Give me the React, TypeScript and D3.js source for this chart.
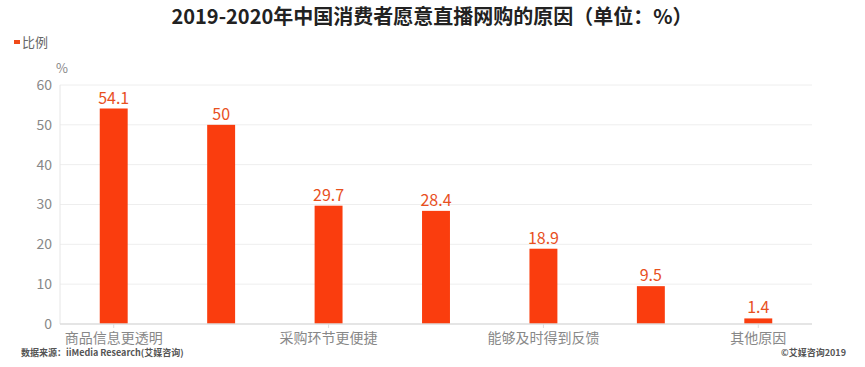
import React, { useRef, useEffect } from 'react';
import * as d3 from 'd3';

const categories = [
  '商品信息更透明',
  '价格更优惠',
  '采购环节更便捷',
  '主播推荐更可信',
  '能够及时得到反馈',
  '互动性更强',
  '其他原因',
];
const values = [54.1, 50, 29.7, 28.4, 18.9, 9.5, 1.4];
const yTicks = [0, 10, 20, 30, 40, 50, 60];

const FONT = '"Noto Sans CJK SC", "Noto Sans", sans-serif';

const App: React.FC = () => {
  const svgRef = useRef<SVGSVGElement | null>(null);
  const width = 865;
  const height = 367;

  useEffect(() => {
    if (!svgRef.current) return;
    const svg = d3.select(svgRef.current);
    svg.selectAll('*').remove();

    const margin = { top: 85, right: 53, bottom: 43, left: 60 };
    const plotW = width - margin.left - margin.right;
    const plotH = height - margin.top - margin.bottom;

    const x = d3.scaleBand<string>()
      .domain(categories)
      .range([0, plotW])
      .paddingInner(0.74)
      .paddingOuter(0.37);

    const y = d3.scaleLinear().domain([0, 60]).range([plotH, 0]);

    // Title
    svg.append('text')
      .attr('x', 432)
      .attr('y', 24)
      .attr('text-anchor', 'middle')
      .attr('font-family', FONT)
      .attr('font-size', 20)
      .attr('font-weight', 'bold')
      .attr('fill', '#222')
      .text('2019-2020年中国消费者愿意直播网购的原因（单位：%）');

    // Legend
    svg.append('rect')
      .attr('x', 14).attr('y', 40).attr('width', 6).attr('height', 4)
      .attr('fill', '#f04a18');
    svg.append('text')
      .attr('x', 22).attr('y', 47)
      .attr('font-family', FONT).attr('font-size', 13).attr('fill', '#666')
      .text('比例');

    const g = svg.append('g').attr('transform', `translate(${margin.left},${margin.top})`);

    // Grid lines
    g.selectAll('.grid')
      .data(yTicks.filter(t => t > 0))
      .enter()
      .append('line')
      .attr('x1', 0).attr('x2', plotW)
      .attr('y1', d => y(d)).attr('y2', d => y(d))
      .attr('stroke', '#eeeeee').attr('stroke-width', 1);

    // Y axis line
    g.append('line')
      .attr('x1', 0).attr('x2', 0).attr('y1', 0).attr('y2', plotH)
      .attr('stroke', '#e6e6e6');

    // Y tick labels
    g.selectAll('.ylab')
      .data(yTicks)
      .enter()
      .append('text')
      .attr('x', -8)
      .attr('y', d => y(d))
      .attr('dy', '0.35em')
      .attr('text-anchor', 'end')
      .attr('font-family', FONT).attr('font-size', 14).attr('fill', '#888')
      .text(d => d);

    // Unit
    g.append('text')
      .attr('x', 2).attr('y', -12)
      .attr('text-anchor', 'middle')
      .attr('font-family', FONT).attr('font-size', 13).attr('fill', '#888')
      .text('%');

    // Bars
    g.selectAll('.bar')
      .data(values)
      .enter()
      .append('rect')
      .attr('x', (_, i) => x(categories[i])!)
      .attr('y', d => y(d))
      .attr('width', x.bandwidth())
      .attr('height', d => plotH - y(d))
      .attr('fill', '#fa3d0e');

    // Value labels
    g.selectAll('.val')
      .data(values)
      .enter()
      .append('text')
      .attr('x', (_, i) => x(categories[i])! + x.bandwidth() / 2)
      .attr('y', d => y(d) - 5)
      .attr('text-anchor', 'middle')
      .attr('font-family', FONT).attr('font-size', 16).attr('fill', '#e8501e')
      .text(d => d);

    // X axis line
    g.append('line')
      .attr('x1', 0).attr('x2', plotW).attr('y1', plotH).attr('y2', plotH)
      .attr('stroke', '#dddddd').attr('stroke-width', 1.5);

    // X ticks and labels (every other label shown)
    categories.forEach((c, i) => {
      const cx = x(c)! + x.bandwidth() / 2;
      if (i % 2 === 0) {
        g.append('line')
          .attr('x1', cx).attr('x2', cx).attr('y1', plotH).attr('y2', plotH + 4)
          .attr('stroke', '#dddddd');
        g.append('text')
          .attr('x', cx).attr('y', plotH + 19)
          .attr('text-anchor', 'middle')
          .attr('font-family', FONT).attr('font-size', 14).attr('fill', '#888')
          .text(c);
      }
    });

    // Footer
    svg.append('text')
      .attr('x', 21).attr('y', 356)
      .attr('font-family', FONT).attr('font-size', 9).attr('font-weight', 'bold').attr('fill', '#555')
      .text('数据来源：iiMedia Research(艾媒咨询)');
    svg.append('text')
      .attr('x', 846).attr('y', 356)
      .attr('text-anchor', 'end')
      .attr('font-family', FONT).attr('font-size', 9).attr('font-weight', 'bold').attr('fill', '#555')
      .text('©艾媒咨询2019');
  }, []);

  return (
    <svg
      ref={svgRef}
      width={width}
      height={height}
      style={{ position: 'absolute', left: 0, top: 0, background: '#fff' }}
    />
  );
};

export default App;
